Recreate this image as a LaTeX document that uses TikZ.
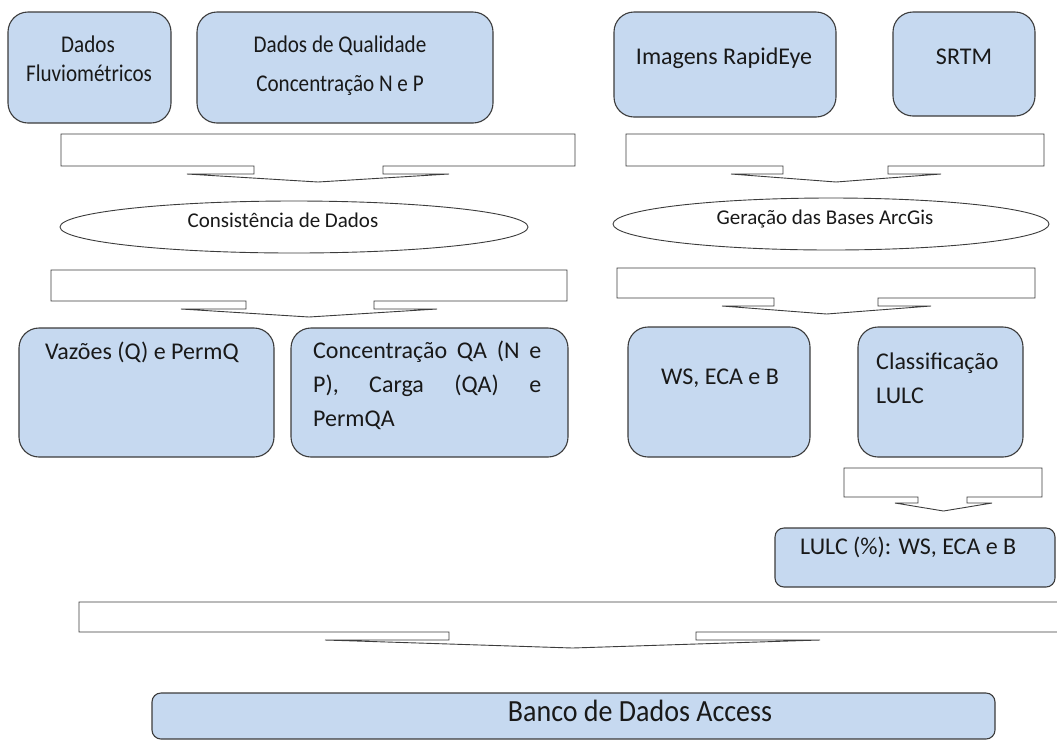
\documentclass[tikz,border=0pt]{standalone}
\usepackage{fontspec}
\usepackage{graphicx}
\setmainfont{Carlito}
\usetikzlibrary{shapes.geometric}
\definecolor{boxfill}{RGB}{198,217,240}
\definecolor{edge}{RGB}{60,60,60}
\definecolor{ink}{RGB}{25,25,25}

% Down-pointing callout: L, R, top, bottom, wing-left, neck-left, neck-right, wing-right, neck bottom
\newcommand{\dcallout}[9]{%
  \draw[callout] (#1,#3) -- (#2,#3) -- (#2,#4) -- (#7,#4) -- (#7,#9) -- (#8,#9)
    -- ({(#5+#8)/2},{#9+8}) -- (#5,#9) -- (#6,#9) -- (#6,#4) -- (#1,#4) -- cycle;}
% narrow lettering used in the two left source boxes
\newcommand{\narrow}[1]{\scalebox{0.88}[1]{#1}}

\begin{document}
\begin{tikzpicture}[x=1pt,y=-1pt,
  box/.style={draw=edge, fill=boxfill, line width=1.1pt, rounded corners=20pt, inner sep=0pt},
  flatbox/.style={box, rounded corners=9pt},
  ell/.style={draw=edge, fill=white, line width=0.9pt, ellipse, inner sep=0pt},
  callout/.style={draw=edge, fill=white, line width=0.9pt, line join=miter},
  txt/.style={inner sep=0pt, text=ink, font=\fontsize{24}{29}\selectfont},
  smalltxt/.style={txt, font=\fontsize{21}{25}\selectfont},
  bigtxt/.style={txt, font=\fontsize{28}{34}\selectfont}]
\useasboundingbox (0,0) rectangle (1057,740);
\clip (0,0) rectangle (1057,740);

% sources
\node[box, minimum width=163, minimum height=111] (fluv) at (89.5,67.5) {};
\node[box, minimum width=296, minimum height=111] (qual) at (345,67.5) {};
\node[box, minimum width=222, minimum height=105] (rapid) at (725,64.5) {};
\node[box, minimum width=142, minimum height=104] (srtm) at (964,64) {};
\node[txt, anchor=mid] (fluv-a) at (88,50) {\narrow{Dados}};
\node[txt, anchor=mid] (fluv-b) at (89,79) {\narrow{Fluviométricos}};
\node[txt, anchor=mid] (qual-a) at (340,50) {\narrow{Dados de Qualidade}};
\node[txt, anchor=mid] (qual-b) at (340,89) {\narrow{Concentração N e P}};
\node[txt, anchor=mid] (rapid-a) at (724,62) {Imagens RapidEye};
\node[txt, anchor=mid] (srtm-a) at (964,62) {SRTM};

% first block arrows
\dcallout{61}{575}{134}{166}{187}{254}{383}{449}{174}
\dcallout{626}{1044}{134}{166}{731}{783}{888}{941}{174}

% processing steps
\node[ell, minimum width=468, minimum height=52] (cons) at (294,227) {};
\node[ell, minimum width=436, minimum height=52] (gera) at (831,224) {};
\node[smalltxt, anchor=mid] (cons-a) at (283,225) {Consistência de Dados};
\node[smalltxt, anchor=mid] (gera-a) at (825,222) {Geração das Bases ArcGis};

% second block arrows
\dcallout{51}{567}{270}{301}{181}{246}{374}{437}{309}
\dcallout{617}{1035}{268}{298}{722}{774}{878}{931}{306}

% products
\node[box, minimum width=255, minimum height=129] (vaz) at (146.5,392.5) {};
\node[box, minimum width=277, minimum height=129] (conc) at (429.5,392.5) {};
\node[box, minimum width=182, minimum height=130] (ws) at (719,392) {};
\node[box, minimum width=165, minimum height=130] (cls) at (940.5,392) {};
\node[txt, anchor=mid west] (vaz-a) at (45,357) {Vazões (Q) e PermQ};
\node[txt, anchor=mid west] (conc-a) at (313,356) {\makebox[228pt][s]{Concentração QA (N e}};
\node[txt, anchor=mid west] (conc-b) at (313,390) {\makebox[228pt][s]{P), Carga (QA) e}};
\node[txt, anchor=mid west] (conc-c) at (313,424) {PermQA};
\node[txt, anchor=mid] (ws-a) at (720,382) {WS, ECA e B};
\node[txt, anchor=mid west] (cls-a) at (876,367) {Classificação};
\node[txt, anchor=mid west] (cls-b) at (876,401) {LULC};

% land use summary
\dcallout{844}{1042}{468}{497}{895}{918}{967}{992}{503}
\node[flatbox, minimum width=280, minimum height=59] (lulc) at (915,557.5) {};
\node[txt, anchor=mid west] (lulc-a) at (800,552) {LULC (\%): WS, ECA e B};

% database
\dcallout{79}{1080}{602}{632}{325}{449}{696}{820}{640}
\node[flatbox, minimum width=843, minimum height=46] (banco) at (573.5,716) {};
\node[bigtxt, anchor=mid] (banco-a) at (640,719) {\scalebox{1}[1.1]{Banco de Dados Access}};
\end{tikzpicture}
\end{document}
